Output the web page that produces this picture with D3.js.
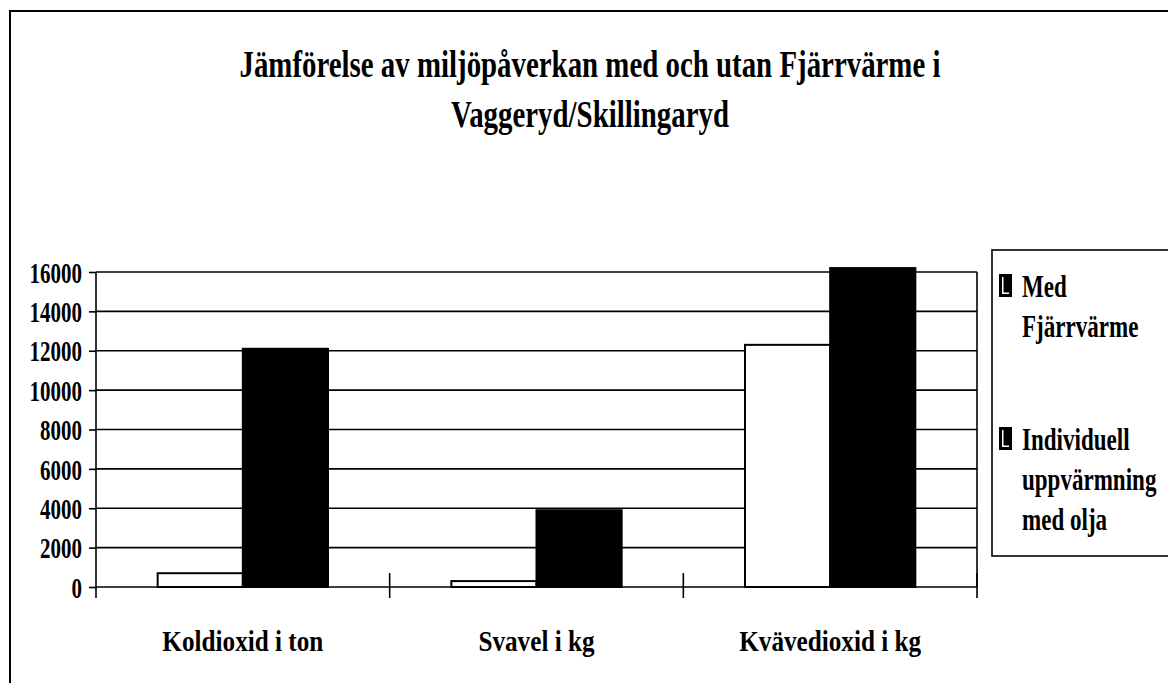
<!DOCTYPE html>
<html>
<head>
<meta charset="utf-8">
<script src="https://cdn.jsdelivr.net/npm/d3@7"></script>
<style>
  body { margin: 0; background: #fff; }
  text { font-family: "Liberation Serif", "Times New Roman", serif; font-weight: bold; fill: #000; }
</style>
</head>
<body>
<svg id="chart" width="1168" height="683"></svg>
<script>
const categories = ["Koldioxid i ton", "Svavel i kg", "Kvävedioxid i kg"];
const seriesNames = ["Med Fjärrvärme", "Individuell uppvärmning med olja"];
const medFjarrvarme = [700, 300, 12300];
const individuellOlja = [12100, 3900, 16200];
const yTicks = [0, 2000, 4000, 6000, 8000, 10000, 12000, 14000, 16000];
const titleLines = ["Jämförelse av miljöpåverkan med och utan Fjärrvärme i", "Vaggeryd/Skillingaryd"];
const legendLines = [["Med", "Fjärrvärme"], ["Individuell", "uppvärmning", "med olja"]];

const data = categories.map((c, i) => ({
  cat: c,
  values: [
    {key: seriesNames[0], value: medFjarrvarme[i]},
    {key: seriesNames[1], value: individuellOlja[i]}
  ]
}));

const svg = d3.select("#chart");

// squash text horizontally around its own x, the original is a very condensed bold serif
function squeeze(sel, f) {
  sel.each(function () {
    const t = d3.select(this);
    const x = +t.attr("x") || 0;
    t.attr("transform", `translate(${x * (1 - f)},0) scale(${f},1)`);
  });
}

// outer frame
svg.append("rect")
  .attr("x", 10).attr("y", 11)
  .attr("width", 1200).attr("height", 700)
  .attr("fill", "none").attr("stroke", "#000").attr("stroke-width", 2);

// title
svg.append("g")
  .attr("font-size", 38)
  .attr("text-anchor", "middle")
  .selectAll("text")
  .data(titleLines)
  .join("text")
  .attr("x", 590)
  .attr("y", (d, i) => 77 + i * 50)
  .text(d => d)
  .call(squeeze, 0.76);

const x0 = d3.scaleBand().domain(categories).range([96, 977]);
const x1 = d3.scaleBand().domain(seriesNames)
  .range([x0.bandwidth() * 0.21, x0.bandwidth() * 0.79]);
const y = d3.scaleLinear().domain([0, 16000]).range([587, 272]);
const color = d3.scaleOrdinal().domain(seriesNames).range(["#fff", "#000"]);

// gridlines
svg.append("g")
  .selectAll("line")
  .data(yTicks.filter(d => d > 0))
  .join("line")
  .attr("x1", 96).attr("x2", 977)
  .attr("y1", d => y(d)).attr("y2", d => y(d))
  .attr("stroke", "#000").attr("stroke-width", 1.6);

// right border of the plot
svg.append("line")
  .attr("x1", 977).attr("x2", 977)
  .attr("y1", y(16000)).attr("y2", y(0))
  .attr("stroke", "#000").attr("stroke-width", 1.6);

// bars
svg.append("g")
  .selectAll("g")
  .data(data)
  .join("g")
  .attr("transform", d => `translate(${x0(d.cat)},0)`)
  .selectAll("rect")
  .data(d => d.values)
  .join("rect")
  .attr("x", d => x1(d.key))
  .attr("width", x1.bandwidth())
  .attr("y", d => y(d.value))
  .attr("height", d => y(0) - y(d.value))
  .attr("fill", d => color(d.key))
  .attr("stroke", "#000")
  .attr("stroke-width", 2);

// y axis
const yAxis = svg.append("g")
  .attr("transform", "translate(96,0)")
  .call(d3.axisLeft(y).tickValues(yTicks).tickSize(7).tickPadding(7).tickFormat(d3.format("d")));
yAxis.attr("font-family", null);
yAxis.select(".domain").attr("stroke-width", 1.6).attr("d", `M0,${y(16000)}V${y(0) + 11}`);
yAxis.selectAll(".tick line").attr("stroke-width", 1.6);
yAxis.selectAll("text")
  .attr("font-size", 30)
  .attr("dy", "0.34em")
  .call(squeeze, 0.7);

// x axis
const xAxis = svg.append("g")
  .attr("transform", `translate(0,${y(0)})`)
  .call(d3.axisBottom(x0).tickSize(0).tickPadding(43));
xAxis.attr("font-family", null);
xAxis.select(".domain").attr("stroke-width", 1.6).attr("d", "M96,0H977");
xAxis.selectAll("text")
  .attr("font-size", 30)
  .call(squeeze, 0.84);

// cross tick marks between categories
svg.append("g")
  .selectAll("line")
  .data(categories)
  .join("line")
  .attr("x1", d => x0(d) + x0.bandwidth())
  .attr("x2", d => x0(d) + x0.bandwidth())
  .attr("y1", y(0) - 14).attr("y2", y(0) + 11)
  .attr("stroke", "#000").attr("stroke-width", 1.6);

// legend
const legend = svg.append("g");
legend.append("rect")
  .attr("x", 992).attr("y", 250)
  .attr("width", 220).attr("height", 306)
  .attr("fill", "#fff").attr("stroke", "#000").attr("stroke-width", 1.6);

const items = legend.selectAll("g.item")
  .data(seriesNames)
  .join("g")
  .attr("class", "item")
  .attr("transform", (d, i) => `translate(0,${i === 0 ? 297 : 450})`);

// swatch: mostly black, thin white streak inside (as scanned)
items.append("rect")
  .attr("x", 999).attr("y", -23)
  .attr("width", 13).attr("height", 23)
  .attr("fill", "#000");
items.append("rect")
  .attr("x", 1002).attr("y", -20)
  .attr("width", 1.5).attr("height", 17)
  .attr("fill", "#fff");
items.append("rect")
  .attr("x", 1002).attr("y", -4.5)
  .attr("width", 7).attr("height", 1.5)
  .attr("fill", "#fff");

items.selectAll("text")
  .data((d, i) => legendLines[i])
  .join("text")
  .attr("x", 1022)
  .attr("y", (d, j) => j * 40)
  .attr("font-size", 32)
  .text(d => d)
  .call(squeeze, 0.72);
</script>
</body>
</html>
